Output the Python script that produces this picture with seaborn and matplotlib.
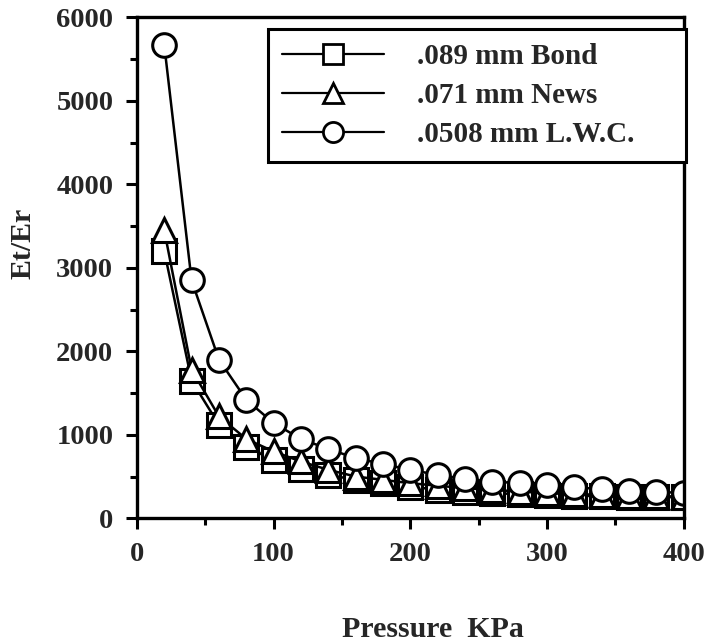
import matplotlib
matplotlib.use("Agg")
import matplotlib.pyplot as plt
import seaborn as sns
import pandas as pd
from matplotlib.ticker import MultipleLocator

pressure = [20, 40, 60, 80, 100, 120, 140, 160, 180, 200,
            220, 240, 260, 280, 300, 320, 340, 360, 380, 400]
bond = [3200, 1650, 1120, 850, 700, 590, 520, 460, 420, 380,
        340, 310, 300, 290, 280, 270, 265, 260, 255, 250]
news = [3450, 1780, 1220, 950, 800, 680, 580, 500, 460, 420,
        390, 360, 340, 320, 300, 290, 280, 270, 265, 260]
lwc = [5670, 2850, 1900, 1420, 1140, 950, 830, 720, 650, 580,
       520, 470, 440, 420, 400, 370, 350, 330, 320, 300]
labels = [".089 mm Bond", ".071 mm News", ".0508 mm L.W.C."]

df = pd.concat([
    pd.DataFrame({"Pressure": pressure, "Ratio": bond, "Paper": labels[0]}),
    pd.DataFrame({"Pressure": pressure, "Ratio": news, "Paper": labels[1]}),
    pd.DataFrame({"Pressure": pressure, "Ratio": lwc, "Paper": labels[2]}),
])

sns.set_style("ticks")
plt.rcParams["font.family"] = ["Liberation Serif", "DejaVu Serif"]
plt.rcParams["font.weight"] = "bold"

fig = plt.figure(figsize=(7.13, 6.43), dpi=100)
ax = fig.add_axes([0.192, 0.194, 0.767, 0.779])

sns.lineplot(data=df, x="Pressure", y="Ratio", hue="Paper", style="Paper",
             palette=["black"] * 3, markers=["s", "^", "o"], dashes=False,
             markersize=17, markerfacecolor="white", markeredgecolor="black",
             markeredgewidth=2.2, linewidth=1.8, ax=ax, legend=True)

ax.set_xlim(0, 400)
ax.set_ylim(0, 6000)
ax.xaxis.set_major_locator(MultipleLocator(100))
ax.xaxis.set_minor_locator(MultipleLocator(50))
ax.yaxis.set_major_locator(MultipleLocator(1000))
ax.yaxis.set_minor_locator(MultipleLocator(500))
ax.tick_params(which="major", direction="out", length=8, width=2.2,
               labelsize=20.5, pad=9, color="black")
ax.tick_params(which="minor", direction="out", length=5, width=2.2, color="black")
for lab in ax.get_xticklabels() + ax.get_yticklabels():
    lab.set_fontweight("bold")
for sp in ax.spines.values():
    sp.set_linewidth(2.4)
    sp.set_color("black")
    sp.set_visible(True)

ax.set_xlabel("Pressure  KPa", fontsize=21.5, fontweight="bold")
ax.xaxis.set_label_coords(0.541, -0.196)
ax.set_ylabel("Et/Er", fontsize=21.5, fontweight="bold")
ax.yaxis.set_label_coords(-0.183, 0.549)

handles, _ = ax.get_legend_handles_labels()
leg = ax.legend(handles=handles, labels=labels, loc="upper left",
                bbox_to_anchor=(0.2395, 0.5, 0.764, 0.476), mode="expand",
                frameon=True, fancybox=False, framealpha=1, edgecolor="black",
                handlelength=3.5, handletextpad=1.15, borderpad=0.48,
                borderaxespad=0, labelspacing=0.4,
                prop={"weight": "bold", "size": 21})
leg.get_frame().set_linewidth(2.2)
for h in leg.legend_handles:
    h.set_markersize(14.5)
    h.set_markeredgewidth(2.0)
    h.set_linewidth(1.6)

fig.savefig("out.png", dpi=100, facecolor="white")
